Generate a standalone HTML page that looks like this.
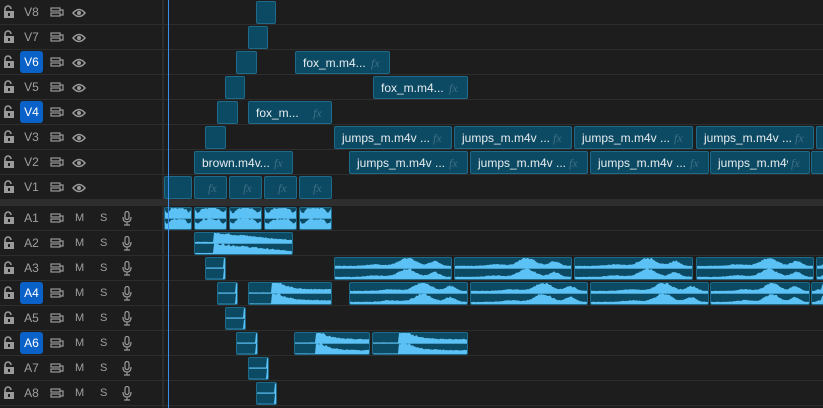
<!DOCTYPE html>
<html><head><meta charset="utf-8"><style>
*{margin:0;padding:0;box-sizing:border-box}
body{width:823px;height:408px;background:#1d1d1d;overflow:hidden;position:relative;font-family:"Liberation Sans",sans-serif}
.row{position:absolute;left:0;width:823px;height:25px;border-bottom:1px solid #2d2d2d}
.hdr{position:absolute;left:0;top:0;width:163px;height:100%;border-right:1px solid #2d2d2d}
.lab{position:absolute;left:20px;top:1px;width:23px;height:22px;border-radius:3px;color:#a0a0a0;font-size:12px;text-align:center;line-height:22px}
.lab.on{background:#0a62c8;color:#fff}
.ic{position:absolute;top:0;color:#a0a0a0;font-size:11px;line-height:24px}
.clip{position:absolute;background:#0c4a63;border:1px solid #1f6a88;border-radius:2px;overflow:hidden}
.vt{position:absolute;left:7px;top:4px;color:#e6ecef;font-size:12px;white-space:nowrap}
.fx{position:absolute;top:4px;color:#3e6f86;font-size:12px;font-style:italic;font-family:"Liberation Serif",serif;background:#0c4a63;padding:0 3px}
.sep{position:absolute;left:0;top:200px;width:823px;height:6px;background:#2e2e2e}
</style></head><body>
<div id="root"></div>
<div class="sep"></div>
<div style="position:absolute;left:163px;top:0;width:1px;height:408px;background:#2d2d2d"></div>
<div style="position:absolute;left:168px;top:0;width:1px;height:408px;background:#3a8ef0;z-index:5"></div>
<script>
var R=document.getElementById('root'),h='';
var lock='<svg width="12" height="14" viewBox="0 0 12 14"><path d="M2 6V4a3 3 0 0 1 6 0" stroke="#9a9a9a" stroke-width="1.6" fill="none"/><rect x="1" y="6" width="10" height="7" fill="#9a9a9a"/><rect x="5" y="8" width="2" height="3" fill="#1d1d1d"/></svg>';
var tgt='<svg width="14" height="11" viewBox="0 0 14 11"><rect x="1" y="1" width="9" height="3" fill="none" stroke="#9a9a9a" stroke-width="1.2"/><rect x="1" y="6" width="9" height="3" fill="none" stroke="#9a9a9a" stroke-width="1.2"/><path d="M10 3h3v5h-3" fill="none" stroke="#9a9a9a" stroke-width="1.2"/></svg>';
var eye='<svg width="14" height="10" viewBox="0 0 14 10"><path d="M1 5Q7 -2 13 5Q7 12 1 5Z" fill="none" stroke="#9a9a9a" stroke-width="1.5"/><circle cx="7" cy="5" r="2" fill="#9a9a9a"/></svg>';
var mic='<svg width="10" height="15" viewBox="0 0 10 15"><rect x="3" y="0.5" width="4" height="8" rx="2" fill="none" stroke="#9a9a9a" stroke-width="1.2"/><path d="M1 6q0 5 4 5q4 0 4-5M5 11v3M2 14h6" fill="none" stroke="#9a9a9a" stroke-width="1.2"/></svg>';
function row(y,name,on,aud){
 var s='<div class="row" style="top:'+y+'px"><div class="hdr">';
 s+='<div class="ic" style="left:3px;top:5px;line-height:0">'+lock+'</div>';
 s+='<div class="lab'+(on?' on':'')+'">'+name+'</div>';
 s+='<div class="ic" style="left:50px;top:7px;line-height:0">'+tgt+'</div>';
 if(!aud) s+='<div class="ic" style="left:72px;top:8px;line-height:0">'+eye+'</div>';
 else s+='<div class="ic" style="left:75px">M</div><div class="ic" style="left:100px">S</div><div class="ic" style="left:122px;top:5px;line-height:0">'+mic+'</div>';
 return s+'</div></div>';
}
var V=['V8','V7','V6','V5','V4','V3','V2','V1'];
for(var i=0;i<8;i++)h+=row(i*25,V[i],V[i]=='V6'||V[i]=='V4',0);
for(var i=0;i<8;i++)h+=row(206+i*25,'A'+(i+1),i==3||i==5,1);
function vc(x,w,y,t){
 var s='<div class="clip" style="left:'+x+'px;top:'+(y+1)+'px;width:'+w+'px;height:23px">';
 if(t&&w>40)s+='<div class="vt">'+t+'</div>';
 if(t!==null&&w>25)s+='<div class="fx" style="left:'+(w-23)+'px">fx</div>';
 return s+'</div>';
}
var seed=7;function rnd(){seed=(seed*9301+49297)%233280;return seed/233280;}
var F={
 a1:function(t){return 0.95-0.45*Math.exp(-Math.pow((t-0.12)/0.1,2))-0.4*Math.exp(-Math.pow((t-0.88)/0.1,2))},
 dec:function(t){return t<0.2?0.1:1-0.75*(t-0.2)/0.8},
 jmp:function(t){return 0.2+0.75*Math.exp(-Math.pow((t-0.62)/0.1,2))+0.45*Math.exp(-Math.pow((t-0.85)/0.06,2))+0.15*Math.exp(-Math.pow((t-0.35)/0.1,2))},
 fox:function(t){return t<0.28?0.05:(t<0.38?1:0.35+0.6*Math.exp(-(t-0.38)*8))},
 sm:function(t){return t>0.88?1:0.03}
};
function ac(x,w,y,k){
 var H=23,s='<div class="clip" style="left:'+x+'px;top:'+(y+1)+'px;width:'+w+'px;height:'+H+'px">';
 var p='';
 for(var c=0;c<2;c++){
  var base=c?22:11,hh=10.5;
  p+='M0 '+base;
  for(var j=0;j<=w;j++){var a=Math.min(1,F[k](j/w)*(0.88+0.25*rnd()));p+='L'+j+' '+(base-a*hh).toFixed(1);}
  p+='L'+w+' '+base+'Z';
 }
 s+='<svg width="'+w+'" height="'+H+'" style="position:absolute;left:-1px;top:-1px"><path d="'+p+'" fill="#5cc2f5"/><rect x="0" y="10.5" width="'+w+'" height="1.2" fill="#5cc2f5"/></svg>';
 return s+'</div>';
}
h+=vc(256,20,0,'');h+=vc(248,20,25,'');
h+=vc(236,21,50,'');h+=vc(295,95,50,'fox_m.m4...');
h+=vc(225,20,75,'');h+=vc(373,95,75,'fox_m.m4...');
h+=vc(217,21,100,'');h+=vc(248,84,100,'fox_m...');
h+=vc(205,21,125,'');
[[334,118],[454,118],[574,119],[696,118],[816,20]].forEach(function(a){h+=vc(a[0],a[1],125,'jumps_m.m4v ...')});
h+=vc(194,99,150,'brown.m4v...');
[[349,119],[470,118],[590,119],[710,100],[811,20]].forEach(function(a){h+=vc(a[0],a[1],150,a[1]<110?'jumps_m.m4v...':'jumps_m.m4v ...')});
h+=vc(164,28,175,null);
[[194,33],[229,33],[264,33],[299,33]].forEach(function(a){h+=vc(a[0],a[1],175,'')});
var A=206;
[[164,28],[194,33],[229,33],[264,33],[299,33]].forEach(function(a){h+=ac(a[0],a[1],A,'a1')});
h+=ac(194,99,A+25,'dec');
h+=ac(205,21,A+50,'sm');
[[334,118],[454,118],[574,119],[696,118],[816,20]].forEach(function(a){h+=ac(a[0],a[1],A+50,'jmp')});
h+=ac(217,21,A+75,'sm');h+=ac(248,84,A+75,'fox');
[[349,119],[470,118],[590,119],[710,100],[811,20]].forEach(function(a){h+=ac(a[0],a[1],A+75,'jmp')});
h+=ac(225,21,A+100,'sm');
h+=ac(236,22,A+125,'sm');h+=ac(294,76,A+125,'fox');h+=ac(372,96,A+125,'fox');
h+=ac(248,21,A+150,'sm');h+=ac(256,21,A+175,'sm');
R.innerHTML=h;
</script>
</body></html>
